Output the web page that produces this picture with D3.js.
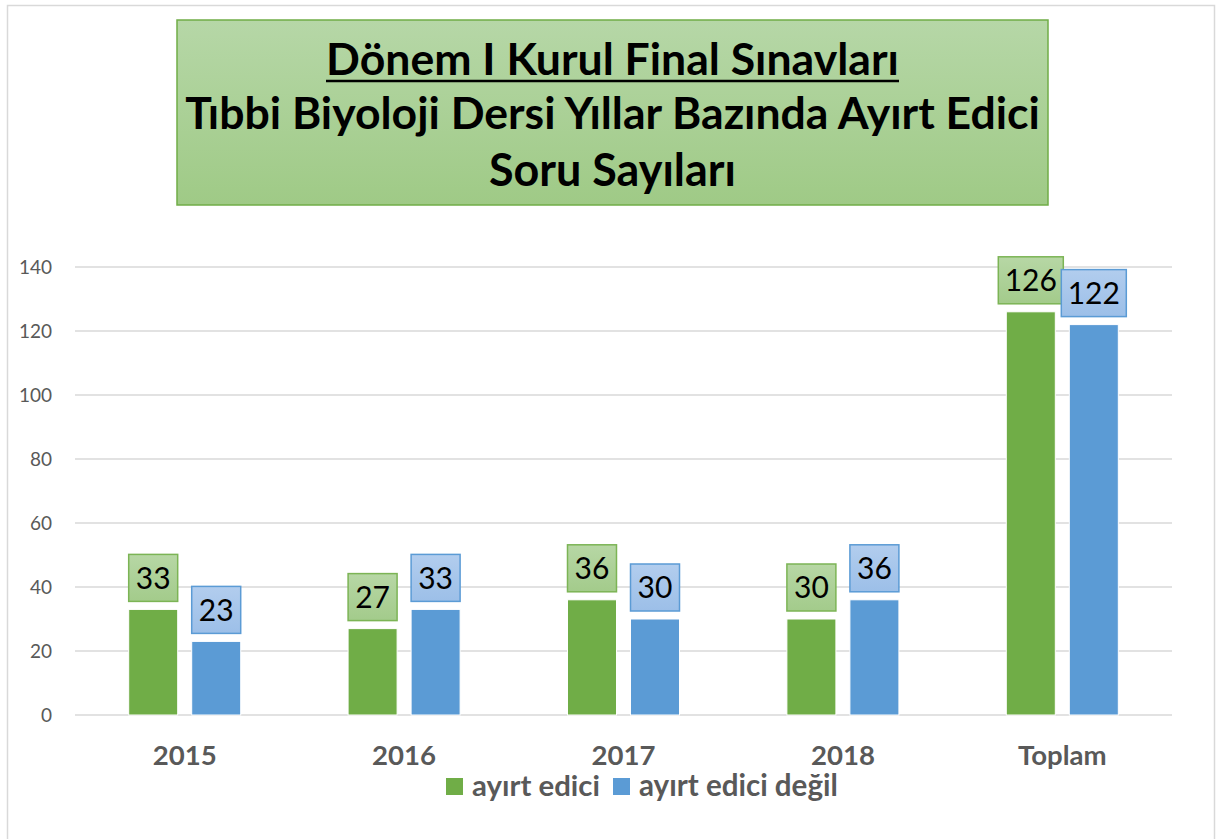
<!DOCTYPE html>
<html>
<head>
<meta charset="utf-8">
<script src="https://cdn.jsdelivr.net/npm/d3@7"></script>
<style>
  body { margin: 0; background: #fff; }
  svg { display: block; font-family: Lato, "Open Sans", sans-serif; }
</style>
</head>
<body>
<div id="chart"></div>
<script>
// Data
const categories = ["2015", "2016", "2017", "2018", "Toplam"];
const seriesNames = ["ayırt edici", "ayırt edici değil"];
const ayirtEdici = [33, 27, 36, 30, 126];
const ayirtEdiciDegil = [23, 33, 30, 36, 122];
const yTicks = [0, 20, 40, 60, 80, 100, 120, 140];
const titleLines = ["Dönem I Kurul Final Sınavları", "Tıbbi Biyoloji Dersi Yıllar Bazında Ayırt Edici", "Soru Sayıları"];

const width = 1217;
const height = 839;

const colors = ["#70ad47", "#5b9bd5"];
const labelFill = ["url(#gGreen)", "url(#gBlue)"];
const labelStroke = ["#7cb455", "#5b9bd5"];

const svg = d3.select("#chart")
    .append("svg")
    .attr("width", width)
    .attr("height", height);

// gradients for title box and data label boxes
const defs = svg.append("defs");
function grad(id, c1, c2) {
    const g = defs.append("linearGradient").attr("id", id)
        .attr("x1", 0).attr("y1", 0).attr("x2", 0).attr("y2", 1);
    g.append("stop").attr("offset", "0%").attr("stop-color", c1);
    g.append("stop").attr("offset", "100%").attr("stop-color", c2);
}
grad("gTitle", "#b6d7a7", "#9fca86");
grad("gGreen", "#b7d7a5", "#a3cb8b");
grad("gBlue", "#b2cdee", "#9cbfe8");

// scale a text's font size so it matches a width
function fitSize(sel, base, target) {
    sel.attr("font-size", base);
    const w = sel.node().getComputedTextLength();
    return base * target / w;
}

// outer chart border
svg.append("rect")
    .attr("x", 7.5).attr("y", 5.5)
    .attr("width", 1207).attr("height", 850)
    .attr("fill", "none")
    .attr("stroke", "#d9d9d9")
    .attr("stroke-width", 1.5);

// title box
svg.append("rect")
    .attr("x", 177).attr("y", 20)
    .attr("width", 871).attr("height", 185)
    .attr("fill", "url(#gTitle)")
    .attr("stroke", "#70ad47")
    .attr("stroke-width", 1.5);

const titleBase = [75, 129, 186];
const titleWidth = [573, 855, 247];
titleLines.forEach((t, i) => {
    const txt = svg.append("text")
        .attr("x", 612.5).attr("y", titleBase[i])
        .attr("text-anchor", "middle")
        .attr("font-weight", "bold")
        .attr("fill", "#000")
        .text(t);
    txt.attr("font-size", fitSize(txt, 36, titleWidth[i]));
    if (i === 0) {
        svg.append("line")
            .attr("x1", 612.5 - titleWidth[0] / 2).attr("x2", 612.5 + titleWidth[0] / 2)
            .attr("y1", titleBase[0] + 6).attr("y2", titleBase[0] + 6)
            .attr("stroke", "#000").attr("stroke-width", 2.5);
    }
});

// scales
const x = d3.scaleBand()
    .domain(categories)
    .range([75, 1172])
    .paddingInner(0)
    .paddingOuter(0);

const xSub = d3.scaleBand()
    .domain(seriesNames)
    .range([0, x.bandwidth()])
    .paddingInner(14 / 63)
    .paddingOuter(0.852);

const y = d3.scaleLinear()
    .domain([0, 140])
    .range([715, 267]);

// gridlines
svg.append("g")
    .selectAll("line")
    .data(yTicks)
    .enter()
    .append("line")
    .attr("x1", 75).attr("x2", 1172)
    .attr("y1", d => y(d)).attr("y2", d => y(d))
    .attr("stroke", "#d9d9d9")
    .attr("stroke-width", 1.5);

// y tick labels
svg.append("g")
    .selectAll("text")
    .data(yTicks)
    .enter()
    .append("text")
    .attr("x", 52)
    .attr("y", d => y(d))
    .attr("dy", "0.35em")
    .attr("text-anchor", "end")
    .attr("font-size", 19)
    .attr("fill", "#595959")
    .text(d => d);

// x labels
const xLabels = svg.append("g")
    .selectAll("text")
    .data(categories)
    .enter()
    .append("text")
    .attr("x", d => x(d) + x.bandwidth() / 2)
    .attr("y", 765)
    .attr("text-anchor", "middle")
    .attr("font-weight", "bold")
    .attr("fill", "#595959")
    .text(d => d);
const xFont = fitSize(xLabels.filter((d, i) => i === 0), 25, 64);
xLabels.attr("font-size", xFont);

// bars + labels
const data = [ayirtEdici, ayirtEdiciDegil];
data.forEach((vals, s) => {
    const g = svg.append("g");
    vals.forEach((v, i) => {
        const bx = x(categories[i]) + xSub(seriesNames[s]);
        const bw = xSub.bandwidth();
        g.append("rect")
            .attr("x", bx).attr("y", y(v))
            .attr("width", bw).attr("height", y(0) - y(v))
            .attr("fill", colors[s])
            .attr("stroke", "#fff")
            .attr("stroke-width", 1);

        // data label box
        const cx = bx + bw / 2;
        const boxW = String(v).length > 2 ? 65 : 49;
        const boxH = 47;
        const boxBottom = y(v) - 8;
        g.append("rect")
            .attr("x", cx - boxW / 2).attr("y", boxBottom - boxH)
            .attr("width", boxW).attr("height", boxH)
            .attr("fill", labelFill[s])
            .attr("stroke", labelStroke[s])
            .attr("stroke-width", 1.5);
        g.append("text")
            .attr("x", cx).attr("y", boxBottom - boxH / 2)
            .attr("dy", "0.36em")
            .attr("text-anchor", "middle")
            .attr("font-size", 30)
            .attr("fill", "#000")
            .text(v);
    });
});

// legend
const legendItems = [
    { name: seriesNames[0], color: colors[0], sx: 446, tx: 472, w: 128 },
    { name: seriesNames[1], color: colors[1], sx: 613, tx: 639, w: 199 }
];
const legend = svg.append("g");
legendItems.forEach(d => {
    legend.append("rect")
        .attr("x", d.sx).attr("y", 778)
        .attr("width", 17).attr("height", 17)
        .attr("fill", d.color);
    const t = legend.append("text")
        .attr("x", d.tx).attr("y", 796)
        .attr("font-weight", "bold")
        .attr("fill", "#595959")
        .text(d.name);
    t.attr("font-size", fitSize(t, 25, d.w));
});
</script>
</body>
</html>
